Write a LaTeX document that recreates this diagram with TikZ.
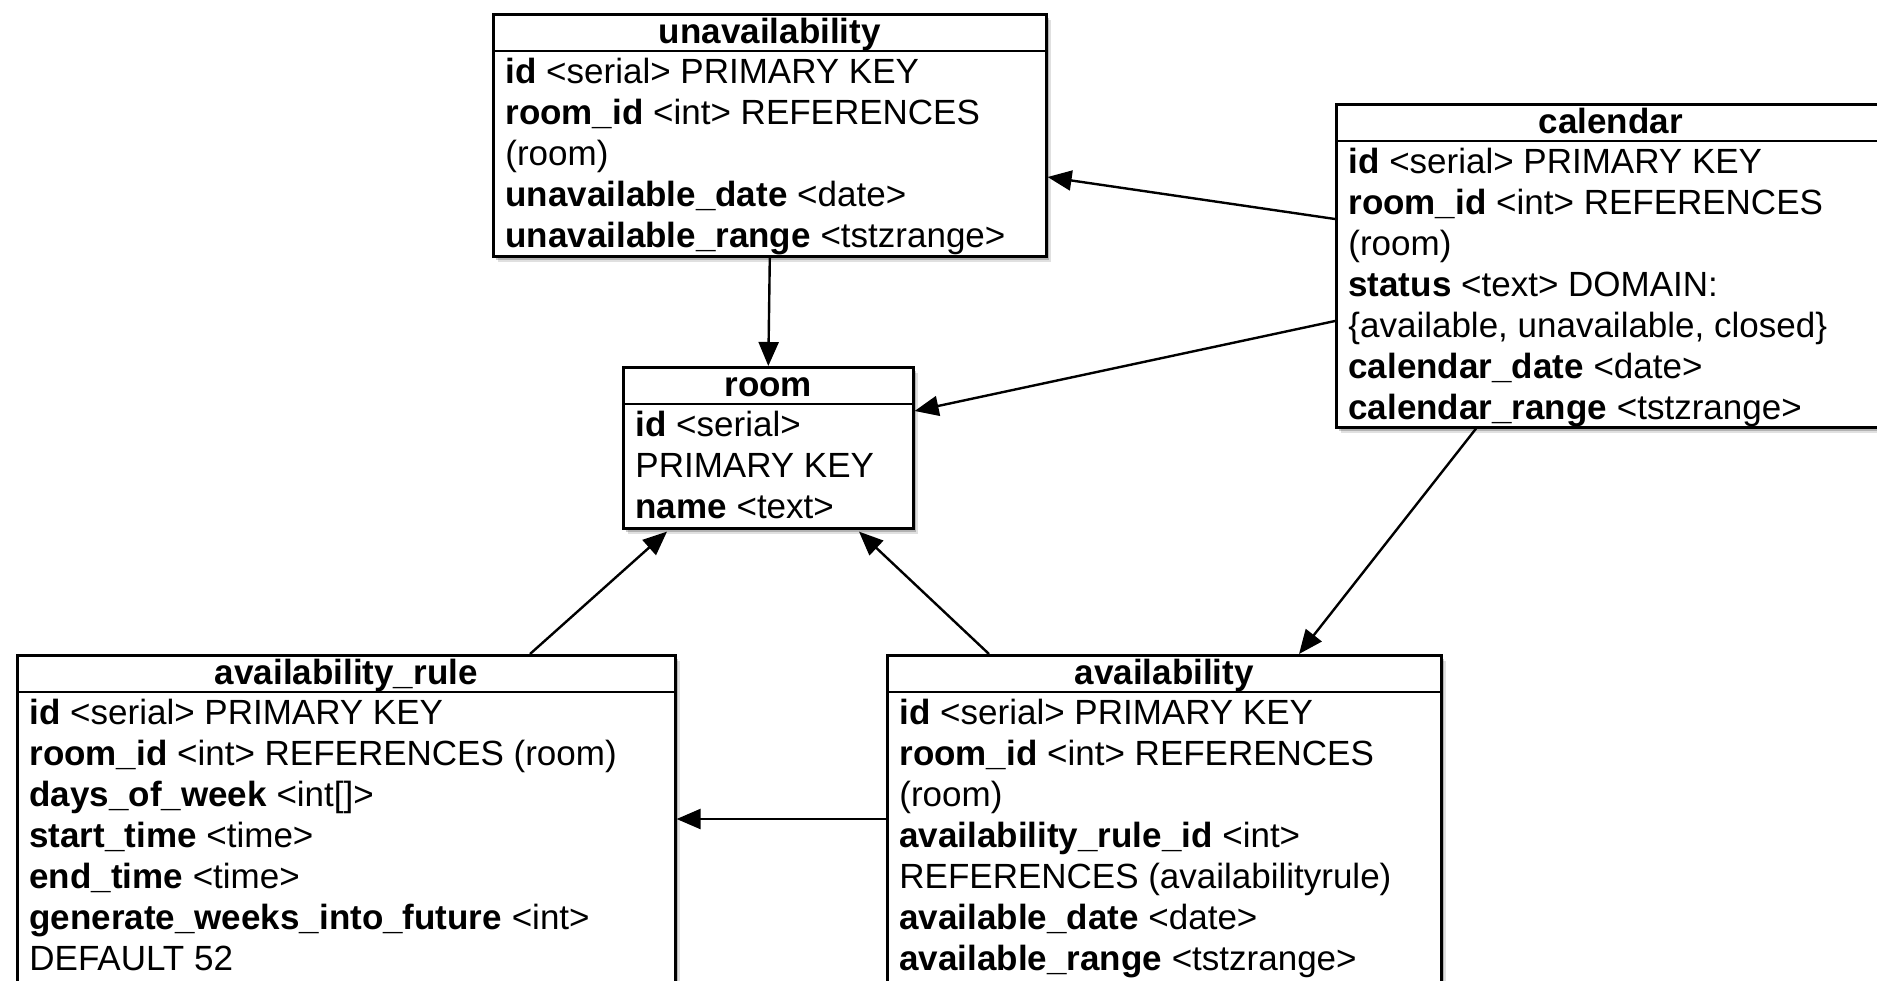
\documentclass[tikz,border=0pt]{standalone}
\usepackage{fontspec}
\setmainfont{Liberation Sans}
\usetikzlibrary{arrows.meta,calc,shadows}
\tikzset{
  tablebox/.style={draw, line width=1.3pt, fill=white, anchor=north west, inner sep=0pt,
    general shadow={shadow xshift=2.2pt, shadow yshift=-2.8pt, fill=black, opacity=0.12},
    general shadow={shadow xshift=1.2pt, shadow yshift=-1.6pt, fill=black, opacity=0.2}},
  headrule/.style={line width=1.3pt},
  tabletitle/.style={anchor=base, inner sep=0pt, font=\fontsize{17.5}{20.5}\selectfont\bfseries},
  fieldrow/.style={anchor=base west, inner sep=0pt, font=\fontsize{17.5}{20.5}\selectfont},
  fkey/.style={line width=1.2pt, -{Triangle[length=12pt,width=10pt]}},
}
% one table: box, title, rule under the title, one node per field line
\newcommand\dbtable[3]{%
  \node[tabletitle] (#1-title) at ($(#1.north)+(0,30)$) {#2};
  \draw[headrule] ($(#1.north west)+(0,38)$) -- ($(#1.north east)+(0,38)$);
  \foreach \rowtext [count=\i] in {#3}
    \node[fieldrow] (#1-row\i) at ($(#1.north west)+(13,{70+(\i-1)*41})$) {\rowtext};
}
\begin{document}
\begin{tikzpicture}[x=0.5pt, y=-0.5pt]
  \useasboundingbox (0,0) rectangle (1877,980);
  \clip (0,0) rectangle (1877,980);
  \fill[white] (0,0) rectangle (1877,980);

  % tables
  \node[tablebox, minimum width=276.5pt, minimum height=121pt] (unav) at (492,13) {};
  \node[tablebox, minimum width=274.5pt, minimum height=161.5pt] (cal) at (1335,103) {};
  \node[tablebox, minimum width=145pt, minimum height=80.5pt] (room) at (622,366) {};
  \node[tablebox, minimum width=329pt, minimum height=178pt] (rule) at (16,654) {};
  \node[tablebox, minimum width=277pt, minimum height=178pt] (avail) at (886,654) {};

  \dbtable{unav}{unavailability}{
    {\textbf{id} <serial> PRIMARY KEY},
    {\textbf{room\_id} <int> REFERENCES},
    {(room)},
    {\textbf{unavailable\_date} <date>},
    {\textbf{unavailable\_range} <tstzrange>}}

  \dbtable{cal}{calendar}{
    {\textbf{id} <serial> PRIMARY KEY},
    {\textbf{room\_id} <int> REFERENCES},
    {(room)},
    {\textbf{status} <text> DOMAIN:},
    {\{available, unavailable, closed\}},
    {\textbf{calendar\_date} <date>},
    {\textbf{calendar\_range} <tstzrange>}}

  \dbtable{room}{room}{
    {\textbf{id} <serial>},
    {PRIMARY KEY},
    {\textbf{name} <text>}}

  \dbtable{rule}{availability\_rule}{
    {\textbf{id} <serial> PRIMARY KEY},
    {\textbf{room\_id} <int> REFERENCES (room)},
    {\textbf{days\_of\_week} <int[]>},
    {\textbf{start\_time} <time>},
    {\textbf{end\_time} <time>},
    {\textbf{generate\_weeks\_into\_future} <int>},
    {DEFAULT 52}}

  \dbtable{avail}{availability}{
    {\textbf{id} <serial> PRIMARY KEY},
    {\textbf{room\_id} <int> REFERENCES},
    {(room)},
    {\textbf{availability\_rule\_id} <int>},
    {REFERENCES (availabilityrule)},
    {\textbf{available\_date} <date>},
    {\textbf{available\_range} <tstzrange>}}

  % foreign keys
  \draw[fkey] ($(cal.north west)+(0,116)$) -- ($(unav.north east)+(0,164)$);
  \draw[fkey] ($(cal.north west)+(0,218)$) -- ($(room.north east)+(0,45)$);
  \draw[fkey] ($(cal.south west)+(141,0)$) -- ($(avail.north west)+(413,0)$);
  \draw[fkey] (unav.south) -- (room.north);
  \draw[fkey] ($(rule.north west)+(514,0)$) -- ($(room.south west)+(45,2)$);
  \draw[fkey] ($(avail.north west)+(103,0)$) -- ($(room.south west)+(237,2)$);
  \draw[fkey] ($(avail.north west)+(0,165)$) -- ($(rule.north east)+(0,165)$);
\end{tikzpicture}
\end{document}
